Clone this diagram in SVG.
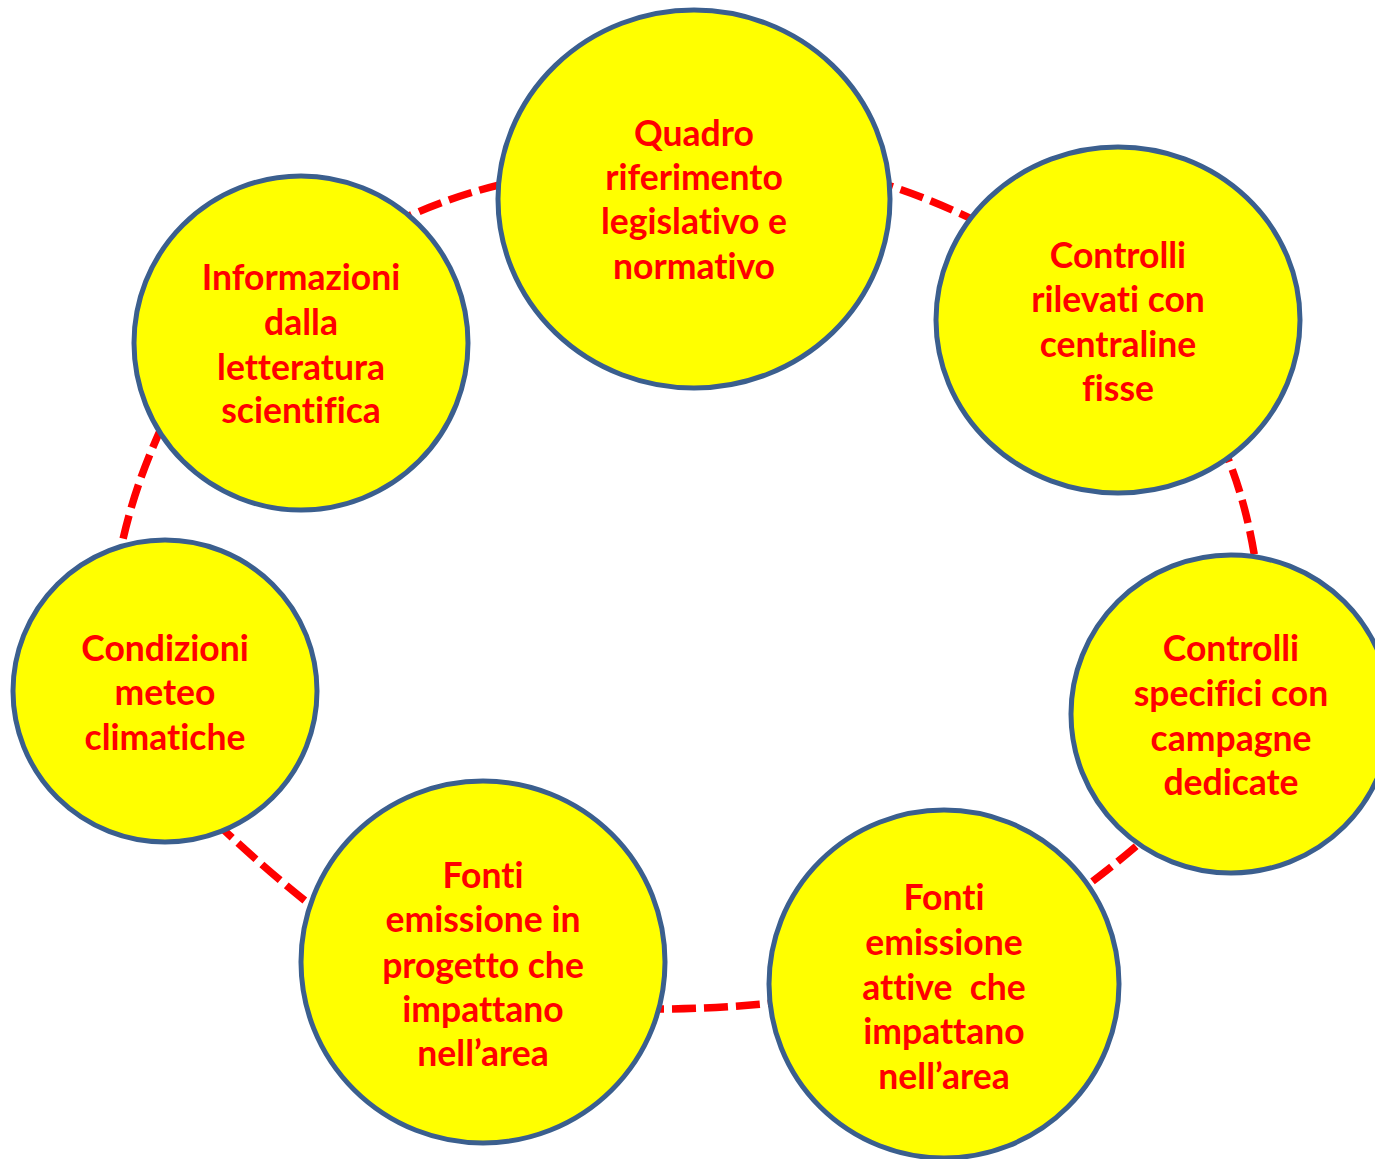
<svg xmlns="http://www.w3.org/2000/svg" width="1375" height="1159" viewBox="0 0 1375 1159">
  <style>
    .link { fill: none; stroke: #FF0000; stroke-width: 7.5; stroke-dasharray: 24 8; }
    .node ellipse { fill: #FFFF00; stroke: #3B5F8E; stroke-width: 5; }
    .node text { fill: #FF0000; font-family: Lato, "Liberation Sans", sans-serif; font-weight: bold; font-size: 35.5px; text-anchor: middle; font-variant-ligatures: none; }
  </style>
  <rect width="1375" height="1159" fill="#FFFFFF"/>

  <!-- dashed ring linking the nodes -->
  <g id="connectors">
    <path class="link" d="M 390 225 Q 450 195 520 180"/>
    <path class="link" d="M 870 180 Q 925 195 990 228"/>
    <path class="link" d="M 1220 440 Q 1248 500 1258 580"/>
    <path class="link" d="M 1160 825 Q 1120 862 1070 898"/>
    <path class="link" d="M 640 1009 Q 715 1010 790 1001"/>
    <path class="link" d="M 330 920 Q 270 875 205 812"/>
    <path class="link" d="M 117 570 Q 130 490 170 410"/>
  </g>

  <g id="quadro" class="node">
    <ellipse cx="694" cy="199" rx="196" ry="189"/>
    <text x="694" y="146">Quadro</text>
    <text x="694" y="190">riferimento</text>
    <text x="694" y="234">legislativo e</text>
    <text x="694" y="279">normativo</text>
  </g>

  <g id="centraline" class="node">
    <ellipse cx="1118" cy="320" rx="182" ry="173"/>
    <text x="1118" y="268">Controlli</text>
    <text x="1118" y="312">rilevati con</text>
    <text x="1118" y="357">centraline</text>
    <text x="1118" y="401">fisse</text>
  </g>

  <g id="campagne" class="node">
    <ellipse cx="1231" cy="714" rx="160" ry="159"/>
    <text x="1231" y="661">Controlli</text>
    <text x="1231" y="706">specifici con</text>
    <text x="1231" y="751">campagne</text>
    <text x="1231" y="795">dedicate</text>
  </g>

  <g id="fonti-attive" class="node">
    <ellipse cx="944" cy="984" rx="175" ry="174"/>
    <text x="944" y="910">Fonti</text>
    <text x="944" y="955">emissione</text>
    <text x="944" y="1000" xml:space="preserve">attive  che</text>
    <text x="944" y="1044">impattano</text>
    <text x="944" y="1089">nell’area</text>
  </g>

  <g id="fonti-progetto" class="node">
    <ellipse cx="483" cy="962" rx="182" ry="181"/>
    <text x="483" y="888">Fonti</text>
    <text x="483" y="932">emissione in</text>
    <text x="483" y="978">progetto che</text>
    <text x="483" y="1022">impattano</text>
    <text x="483" y="1066">nell’area</text>
  </g>

  <g id="meteo" class="node">
    <ellipse cx="165" cy="691" rx="152" ry="151"/>
    <text x="165" y="661">Condizioni</text>
    <text x="165" y="705">meteo</text>
    <text x="165" y="750">climatiche</text>
  </g>

  <g id="letteratura" class="node">
    <ellipse cx="301" cy="343" rx="167" ry="167"/>
    <text x="301" y="290">Informazioni</text>
    <text x="301" y="335">dalla</text>
    <text x="301" y="380">letteratura</text>
    <text x="301" y="423">scientifica</text>
  </g>
</svg>
